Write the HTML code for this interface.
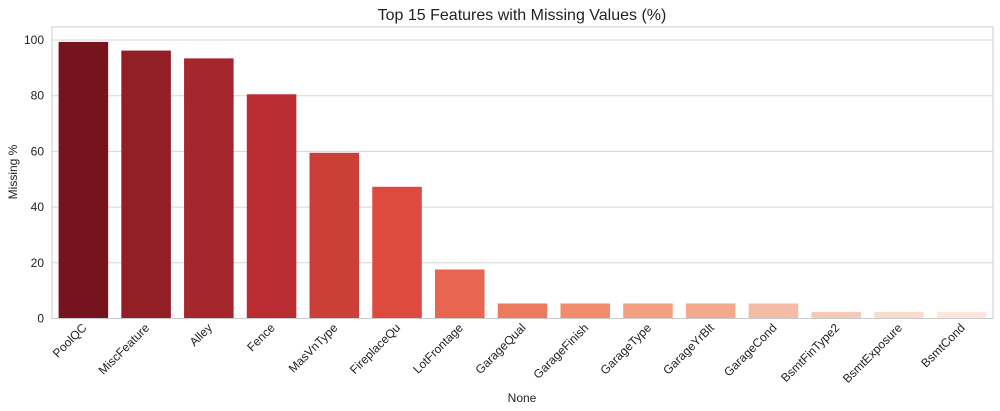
<!DOCTYPE html>
<html><head><meta charset="utf-8"><style>
body{margin:0;background:#fff;}
svg{display:block;font-family:"Liberation Sans",Arial,sans-serif;}
</style></head><body>
<svg id="chart" width="1000" height="411">
<text x="522" y="20" text-anchor="middle" font-size="16" fill="#222">Top 15 Features with Missing Values (%)</text>
<text transform="translate(17,172) rotate(-90)" text-anchor="middle" font-size="12" fill="#222">Missing %</text>
<text x="522" y="402" text-anchor="middle" font-size="12" fill="#222">None</text>
<g id="grid"></g><g id="bars"></g><g id="yticks"></g><g id="xticks"></g>
<rect x="52" y="27" width="941" height="291.5" fill="none" stroke="#ccc" stroke-width="1"/>
</svg>
<script>
const categories=["PoolQC","MiscFeature","Alley","Fence","MasVnType","FireplaceQu","LotFrontage","GarageQual","GarageFinish","GarageType","GarageYrBlt","GarageCond","BsmtFinType2","BsmtExposure","BsmtCond"];
const values=[99.3,96.2,93.4,80.5,59.5,47.3,17.6,5.4,5.4,5.4,5.4,5.4,2.4,2.4,2.4];
const yTicks=[0,20,40,60,80,100];
const colors=["#75141c","#921f26","#a6262d","#b82c32","#cb3f39","#dd4b3f","#e8654f","#ee7a5e","#f18c6c","#f29f80","#f3a98d","#f4bca4","#f5cbb8","#f8dccf","#fbe7de"];
const L=52,R=993,T=27,B=318.5;
const y=v=>B-v*(B-40)/100;
const step=(R-L)/categories.length;
const x=i=>L+step*(i+0.5);
const ns="http://www.w3.org/2000/svg";
function mk(t,a,p){const e=document.createElementNS(ns,t);for(const k in a)e.setAttribute(k,a[k]);p.appendChild(e);return e;}
const grid=document.getElementById('grid'),yt=document.getElementById('yticks'),bars=document.getElementById('bars'),xt=document.getElementById('xticks');
yTicks.forEach(v=>{
 const g=mk('line',{x1:L,x2:R,y1:y(v),y2:y(v),stroke:'#d6d6d6','stroke-width':1},grid);
 
 
 const t=mk('text',{x:L-8,y:y(v)+4,'text-anchor':'end','font-size':12,fill:'#222'},yt);
 t.textContent=v;
 
 
});
categories.forEach((c,i)=>{
 const w=step*0.79;
 const r=mk('rect',{x:x(i)-w/2,y:y(values[i]),width:w,height:B-y(values[i]),fill:colors[i]},bars);
 
 
 const t=mk('text',{transform:`translate(${x(i)+4},${B+10}) rotate(-45)`,'text-anchor':'end','font-size':12,fill:'#222'},xt);
 t.textContent=c;
 
 
});
</script>
</body></html>
